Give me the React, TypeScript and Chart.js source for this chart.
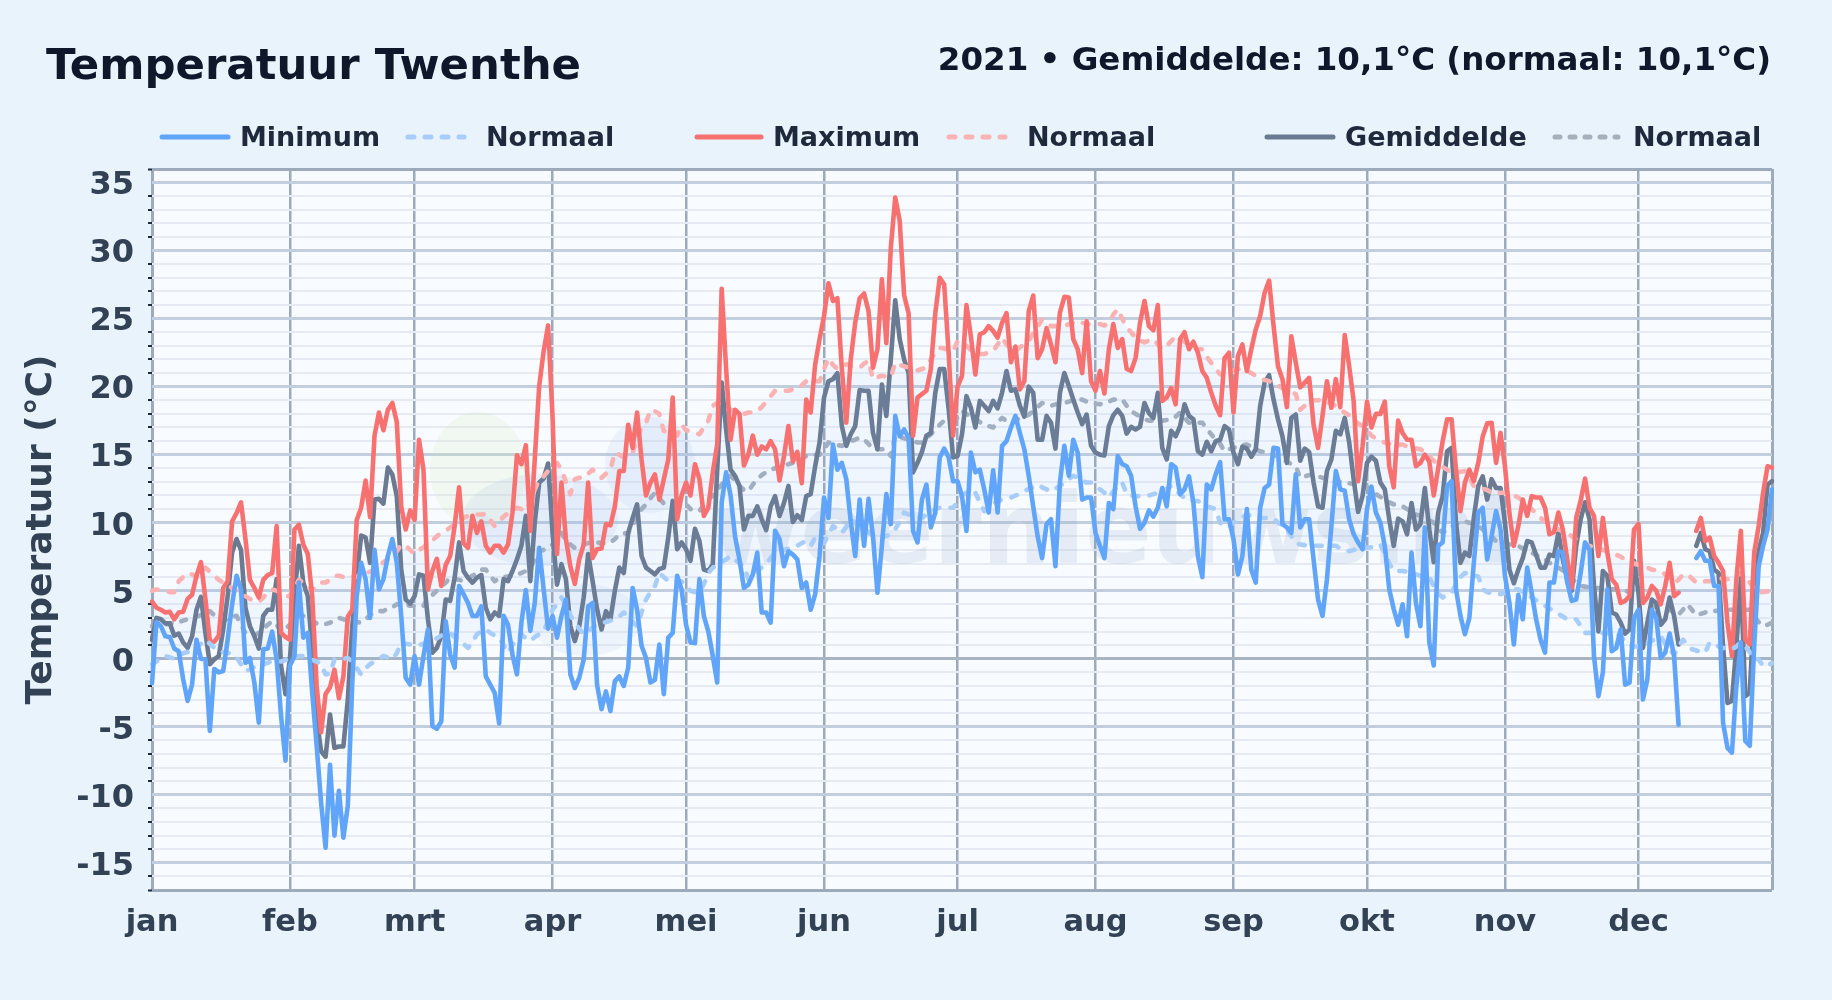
import React, { useEffect, useRef } from "react";
import { Chart, registerables } from "chart.js";

Chart.register(...registerables);

const monthNames = ["jan", "feb", "mrt", "apr", "mei", "jun", "jul", "aug", "sep", "okt", "nov", "dec"];
const monthLengths = [31, 28, 31, 30, 31, 30, 31, 31, 30, 31, 30, 31];

const minimum = [
  -1.8,2.7,2.4,1.65,1.6,0.75,0.55,-1.5,-3.1,-1.9,1.4,0,-0.05,-5.3,-0.75,-1,-0.9,1.4,4,6.1,5.1,-0.3,0.05,-1.75,-4.7,0.7,0.75,2,-0.05,-4.2,-7.5,
  -0.5,0.2,5.6,1.55,1.9,-2.5,-6.4,-10.6,-13.9,-7.8,-13,-9.7,-13.15,-10.8,-1.8,4.6,7.05,5.85,3,8,5.1,5.85,7.55,8.8,7.05,3.15,-1.4,-1.9,
  0.2,-1.9,0.2,2.15,-4.95,-5.15,-4.6,2.75,0.3,-0.65,5.35,4.75,4.1,3.15,3.15,3.85,-1.3,-1.9,-2.5,-4.75,3.15,2.5,0.3,-1.15,2.65,5.05,2.05,4.1,8.15,5.1,2.2,
  3.15,1.55,3.15,4.35,-1.15,-2.15,-1.4,-0.05,3.85,4.1,-1.9,-3.7,-2.4,-3.85,-1.65,-1.3,-2,-0.65,5.2,3.6,0.95,0.05,-1.75,-1.55,1.05,-2.6,1.55,1.9,6.1,5.1,
  2.5,1.2,1.15,5.85,3.15,2,0.2,-1.75,11.5,13.7,12,9,7.3,5.2,5.45,6.2,7.8,3.4,3.4,2.65,9.4,8.8,6.8,7.9,7.65,7.3,5.2,5.6,3.6,4.75,7.55,
  11.85,10.35,15.75,13.9,14.4,13.2,10.1,7.55,11.7,8.3,11.75,9,4.85,8.3,12.1,9.9,17.85,16.35,16.85,16.25,9.4,8.55,11.7,12.8,9.65,10.75,14.8,15.45,14.8,13.05,
  13.05,11.95,9.4,15.15,13.7,13.9,12.45,10.75,13.85,10.75,15.65,16,17,17.85,16.6,15.4,13.45,11.2,9,7.4,9.9,10.25,6.8,12.95,15.65,13.45,16.1,15.15,11.7,11.85,11.85,
  9.25,8.3,7.4,11.45,11,14.9,14.3,14.15,13.45,11.2,9.55,10,10.9,10.45,11.1,12.55,11.2,14.3,14.05,12.1,12.45,13.4,11.45,7.55,6,12.8,12.45,13.55,14.45,10.25,10.25,
  8.8,6.2,7.55,11,6.55,5.6,11.1,12.55,12.8,15.5,15.45,9.9,9.65,9.25,13.55,9.65,10.25,10.25,7.3,4.35,3.15,5.85,9.75,13.8,12.45,12.35,10.25,9.15,8.55,8.05,
  11,12.65,10.75,10,8.3,5.1,3.65,2.5,4,1.65,7.8,4.1,2.4,9.65,1.2,-0.5,8.3,8.55,12.7,13.05,5.1,3.15,1.8,3,7.05,10.75,11.1,7.3,9,10.85,9.5,
  6.1,4.1,1.05,4.7,2.9,6.7,4.85,2.9,1.4,0.45,5.6,5.6,7.9,7.8,5.6,4.25,4.35,6.3,8.55,8,0.2,-2.75,-1,5.1,0.55,0.8,2.15,-1.9,-1.75,3,
  3.6,-3,-1.5,3.6,3,0.05,0.45,1.85,0.2,-4.85,null,null,null,7.4,7.9,7.2,7.2,5.35,5.35,-4.7,-6.55,-6.9,-2,1.2,-6.05,-6.4,0.95,6.8,8.3,9.5,12.45,
];

const maximum = [
  4.2,3.75,3.6,3.4,3.45,2.9,3.4,3.45,4.4,4.7,6.1,7.1,4.4,1.3,1.25,1.7,5.2,5.7,10.1,10.7,11.5,8.8,5.8,5.2,4.5,5.8,6.15,6.3,9.75,1.9,1.6,
  1.4,9.5,9.85,8.4,7.7,4.6,-2,-5.4,-2.6,-2.1,-0.8,-2.9,-1.3,3.1,3.6,10.2,11.1,13.1,10.4,16.4,18.1,16.8,18.3,18.8,17.4,11.2,9.5,10.9,
  10.2,16.1,13.9,5.1,6.45,7.35,5.35,6.9,7.55,9.75,12.6,8.5,8.15,10.5,9.25,10.1,8.3,7.8,8.3,8.3,7.8,8.4,10.75,14.95,14.3,15.7,9.4,14.65,20.05,22.6,24.5,
  17.8,7.7,12.95,8.8,6.8,5.5,7.3,8.4,12.95,7.4,8.05,8.1,9.9,9.8,11.2,13.8,13.8,17.2,15.5,18.1,14.65,12,12.95,13.55,11.7,13.2,14.65,19.2,10.25,12,
  12.95,12,14.3,13.2,10.5,11.1,13.7,15.75,27.2,21.3,16.1,18.3,18,14.2,15,16.4,15,15.6,15.4,16,15.4,13.1,14.9,17.1,14.5,15.2,12.9,19.05,18.1,21.6,23.5,
  25.2,27.6,26.3,26.5,21.3,17.35,22,24.7,26.5,26.85,25.55,21.4,22.75,27.9,23.2,30.2,33.9,32.2,26.7,25.4,16.4,19.2,19.45,19.7,21.3,25.4,28,27.5,22.5,16.4,
  20,20.8,26,23.7,20.9,23.85,24,24.45,24.1,23.6,24.7,25.4,21.8,22.95,19.8,20.4,25.55,26.7,22.1,22.75,24.3,23.1,21.8,25.45,26.6,26.55,23.5,22.75,21,24.8,20.4,
  19.7,21.15,19.5,22.75,24.6,22.85,23.5,21.3,21.15,22.1,24.7,26.3,24.45,24.15,26,18.95,19.2,19.9,18.7,23.5,24,22.75,23.3,22.5,21.15,20.65,19.55,18.6,17.9,22.1,22.5,
  18.1,22.25,23.1,21.15,22.75,24.2,25.2,26.9,27.8,24.5,21.5,20.55,18.5,23.7,21.75,19.95,20.3,20.65,17.2,15.5,17.85,20.4,18.45,20.55,18.5,23.8,21.5,18.95,13.05,15.6,
  18.9,17,18,18,18.9,14.15,12.6,17.5,16.6,16.1,16.1,14.15,14.4,15,14.5,12,14,16,17.6,17.6,13.9,10.85,12.95,13.9,13.05,14.4,16.35,17.3,17.35,14.4,16.6,
  14.15,10.7,8.3,9.75,11.7,10.5,11.95,11.85,11.85,11.1,9.15,9.3,10.75,9.5,7.3,5.2,10.35,11.6,13.25,11.1,10.5,7.55,10.35,7.8,5.85,5.45,4.1,4.25,4.6,9.5,
  9.9,4.1,4.5,5.35,5,4,5.35,7.05,4.6,4.85,null,null,null,9.4,10.35,8.65,8.9,7.55,7.05,6.45,2.65,0.2,5.85,9.4,1.4,1.05,7.8,9.75,12.2,14.15,14.05,
];

const gemiddelde = [
  1.4,3,2.9,2.6,2.6,1.7,1.85,1.2,0.8,1.65,3.6,4.55,1.9,-0.4,-0.05,0.2,2.15,4.6,7.8,8.8,8,3.75,2.4,1.65,0.75,3.15,3.6,3.6,5.85,-0.55,-2.6,
  0.05,4.4,8.3,5.6,4.6,0.7,-4.45,-6.8,-7.2,-4.1,-6.55,-6.45,-6.45,-3,2.4,6.1,9.05,8.9,7.05,11.7,11.75,11.4,14.05,13.55,11.95,6.55,4.35,4.05,
  4.6,6.2,6.1,2.9,0.45,0.8,1.65,4.35,4.25,5.95,8.55,6.45,5.95,5.6,5.95,6.15,3.75,2.9,3.4,3.15,5.85,5.7,6.45,7.3,8.3,10.5,5.7,10,12.95,13.25,14.35,
  9.25,5.45,6.95,5.85,2.4,1.3,2.4,4.5,7.7,5.7,3.65,2.15,3.5,2.9,5,6.7,6.3,9.25,10.35,11.35,7.55,6.7,6.45,6.2,6.6,6.7,8.9,11.6,8.05,8.55,
  8.05,7.2,9.55,8.65,6.55,6.45,6.95,13.9,20.3,16.85,13.9,13.45,12.7,9.5,10.5,10.5,11.2,10.25,9.45,11.2,11.95,10.5,11.45,12.7,10.05,10.55,10.2,11.95,12.1,14.15,15.9,
  19.2,20.4,20.55,21,17.1,15.65,16.5,17.1,19.75,19.7,19.7,16.6,15.4,20.15,17.85,22,26.35,23.5,22,21,13.7,14.4,15.2,16.4,16.6,19.55,21.3,21.3,18.35,14.8,
  14.9,16.5,19.3,18.45,17,18.95,18.6,18.2,18.95,18.4,19.55,21.15,19.7,19.8,18.6,17.8,20,19.55,16.1,16.1,17.85,17.35,15.45,19.55,21,20.05,19.05,18.1,17.25,17.95,15.65,
  15.15,15,14.95,17.1,17.9,18.3,17.85,16.55,17.05,16.85,17.05,18.8,18.05,17.7,19.55,15.5,14.65,16.75,16.35,17.1,18.7,17.85,17.6,15.25,15,15.95,15.25,16,16.1,17.1,16.85,
  15.15,14.3,15.6,15.45,14.85,15.4,18.6,20.3,20.85,19.05,17.6,16.35,14.4,17.7,17.95,14.55,15.45,15.2,12.95,11.2,11.1,13.8,14.65,16.75,16.5,17.7,15.9,13.2,10.8,11.95,
  14.4,14.85,14.55,12.95,12.45,10.25,8.3,10.3,10.1,9.15,11.45,9.5,9.9,12.55,9.5,7.1,10.75,11.95,15.25,15.5,10,7.05,7.8,7.55,10.35,12.7,13.4,11.7,13.2,12.55,12.55,
  10,6.55,5.55,6.55,7.4,8.65,8.55,7.65,6.7,6.7,7.65,7.55,9.25,7.3,5.85,5,8.3,10.25,11.5,10.25,5.35,2,6.45,6.1,3.4,3.25,2.65,1.85,2.15,7.2,
  4.85,0.8,2.65,4.35,4.1,2.5,2.9,4.5,3.15,1.05,null,null,null,8.3,9.25,8.05,7.9,6.55,6.3,0.95,-3.25,-3.1,0.95,5.95,-2.75,-2.5,3.9,7.9,9.25,12.8,13.05,
];

const normaalMin = [
  -0.4,-0.2,0,0.2,0.1,0,0.2,0.4,0.5,0.45,0.8,1.1,1.4,1.1,0.8,0.55,0.5,0.45,0.3,0.1,-0.4,-0.9,-0.8,-0.6,-0.5,-0.4,-0.3,-0.15,-0.2,-0.2,-0.1,
  0,0.1,0.2,0.2,0,-0.1,-0.2,-0.4,-1.15,-1.1,-0.05,0,0,0.05,-0.2,-0.7,-1.15,-0.7,-0.4,-0.2,0,0.2,0.1,-0.05,0.4,1.2,1.1,1.05,
  1.05,1,1.1,1.2,1.3,1.5,1.7,1.8,1.9,1.6,1.4,1.1,0.8,1.2,1.8,2,2.15,1.9,1.7,1.55,1,0.45,1,1.5,1.8,1.5,1.3,1.6,1.8,2,2.8,
  3.6,4,4.5,3.9,3.2,2.65,2.2,1.8,2,2.3,2.5,2.6,2.7,2.8,2.9,3.1,3.4,3,2.7,2.4,3.4,4.35,4.9,5.35,6.3,6,5.7,5.7,5.7,5.7,
  5.3,5,4.9,4.85,5.5,6.3,6.7,6.9,7.1,7.3,7.55,7.3,7,6.8,5.85,6.2,6.5,6.7,6.95,7.4,7.8,7.9,8,8.1,8.2,8.3,8.5,8.65,8.3,8.9,8.7,
  8.5,9.1,9.75,9.5,9.25,9.7,10.25,10,9.8,9.6,9.3,9,9,9,9,9.2,9.5,10.1,10.75,10.6,10.5,10.4,10.35,10.6,10.8,11,11.1,11.1,11.1,11.1,
  11.5,12,12.2,12.4,12.2,11.5,10.85,11.1,11.4,11.6,11.7,11.8,11.85,12,12.1,12.3,12.5,12.6,12.8,12.6,12.45,12.3,12.5,12.7,12.95,13.2,13.45,13.3,13.1,12.95,12.95,
  12.7,12.45,12.2,11.85,12.3,12.7,12.95,12.1,12,11.95,11.95,11.95,12,12.1,12.2,12.3,12.5,12.7,12.4,12.1,11.8,11.6,11.6,11.6,11.4,11.2,11.1,11,10,9.8,9.65,
  10,10.2,10.4,10.6,10.5,10.4,10.35,10.35,10.35,10.35,10,9.8,9.5,9,8.5,8.4,8.35,8.3,8.3,8.3,8.3,8.3,8.3,8.3,8.1,8,7.9,8,8.1,8.15,
  8.15,8.2,8.3,8.4,7.7,7,6.45,6.45,6.45,6.4,6.3,6.2,6.1,6.1,6.05,5.3,4.8,4.5,4.7,4.85,5.5,6,6.3,6.2,6.1,6.05,5.1,4.9,4.8,4.75,4.75,
  4.85,5,5.1,5.1,4.9,4.7,4.5,4.3,4.1,3.9,3.7,3.5,3.3,3.1,2.9,2.9,2.9,2.4,1.9,1.9,1.9,1.9,1.9,1.9,1.9,1.9,1.6,1.3,1,0.9,
  0.9,1,1.1,1.3,1.5,1.65,1.1,0.7,0.3,0.9,1.4,1,0.7,0.6,0.5,0.45,1.2,1.1,0.9,0.8,0.7,0.7,0.9,1.2,0.9,0.5,-0.05,-0.05,-0.55,-0.55,-0.3,
];

const normaalMax = [
  5,5.1,5,5,4.9,4.9,5.7,6,6.3,6.2,6,6.4,6.7,6.4,6.1,5.8,5.6,5.4,5.2,5,4.8,4.6,4.4,4.2,4.2,4.5,4.9,5.1,5,4.8,4.6,
  4.6,5.2,5.8,5.6,5.3,5,5.4,5.6,5.6,5.8,6.1,6.1,6,6.1,6.1,6,6.3,6.3,6.4,6.6,6.8,7.1,7.3,7.6,7.9,8.4,8.3,8,
  7.7,8,8.2,8.5,8.7,9,9.25,9.4,9.65,9.9,10.1,10.35,10.5,10.6,10.6,10.6,10.65,10.2,9.75,10.1,10.45,10.7,10.9,11.1,11,10.85,11.5,12.4,13.2,13.4,13.8,
  14.1,14.4,13.9,13,12.1,13.2,13.3,13.3,13.6,13.9,13.6,13.3,13.6,13.9,15.15,15,14.8,15,15.15,16.2,17,17.35,18.3,18.2,18,16.75,16.6,16.5,16.4,17.2,
  16.8,16.7,16.6,16.5,17,17.5,18.6,18.8,18.6,18.4,18.3,18.2,18.1,18,18.1,18.1,18.2,18.5,18.9,19.3,19.7,19.7,19.7,19.7,19.8,19.85,20.1,20.4,20.4,20.4,20.4,
  21.3,22.1,21.6,21.3,21.5,21.65,21.5,21.45,21.4,21.7,21.9,20.55,20.7,20.8,20.75,20.7,21.75,21.6,21.5,21.4,21.3,21.2,21.3,21.4,22,22.5,22.85,22.8,22.7,22.6,
  23.35,23.3,23,22.7,22.5,22.4,22.4,22.5,22.6,23.1,23.6,23.1,22.8,22.6,22.9,23.1,23.35,23.9,24.4,24.95,24.7,24.45,24.45,24.5,24.45,24.6,24.7,24.85,24.7,24.6,24.6,
  24.6,24.6,24.5,24.7,25.3,25.7,25,24.35,24,23.6,23.4,23.25,23.4,23.5,23.1,22.75,23,23.35,23.7,23.5,23.3,23.1,22.9,22.75,22.75,22.2,21.75,21.3,20.9,20.9,21.1,
  21.2,21.3,21.2,21.15,21,20.8,20.55,20.5,20.4,20.3,20.1,19.9,19.8,19.6,19.45,18.3,18.6,18.95,19,19,19.05,18.9,18.7,18.6,18.3,18.1,17.9,17.6,17.3,17.1,
  16.8,16.4,16.2,16,15.9,15.8,15.65,15.7,15.75,15.6,15.5,15.45,15.4,15.2,14.9,14.55,14.3,14.1,13.9,13.7,13.7,13.75,13.8,13.3,12.7,12.6,12.5,12.4,12.2,12.1,12.2,
  12.2,12.2,12,11.85,11.6,11.3,11,10.7,10.35,10.1,9.9,9.7,9.5,9.4,9.25,9,8.8,8.6,8.4,8.3,8.2,8.1,8,7.9,7.8,7.65,7.5,7.3,7.2,7,
  6.9,6.8,6.7,6.55,6.5,6.45,6.2,5.9,5.6,5.8,6.2,6.2,5.9,5.6,5.6,5.7,5.7,5.8,5.9,5.9,5.85,5.85,6.1,6.3,6,5.6,5.2,4.85,4.9,4.95,4.95,
];

const normaalGem = [
  2.4,2.4,2.5,2.5,2.6,2.6,2.7,2.8,2.9,3,3.1,3.2,3.3,3.5,3.2,2.9,2.8,2.9,3.1,3.15,2.5,1.9,1.8,1.7,1.9,2.2,2.5,2.75,2.5,2,2.2,
  2.5,2.8,3.15,3.15,3,2.8,2.6,2.5,2.55,2.65,2.8,3,2.9,2.8,2.7,2.7,2.65,2.9,3.2,3.4,3.5,3.5,3.7,3.8,4,4,3.95,3.9,
  3.9,3.9,3.9,4.5,4.7,5,5.3,5.6,5.95,5.85,5.8,5.7,5.9,6.1,6.3,6.55,6.55,6.1,5.7,5.9,6,6.05,6.1,6.2,6.3,6.45,6.7,7.3,7.9,8,8.2,
  8.4,8.8,9.25,8.7,8.4,8.15,8.3,8.4,8.5,8.55,8.55,8.5,8.5,8.55,8.8,9.15,9.2,9.25,9.8,10.5,11,11.35,11.8,12.2,11.8,11.4,11.35,11.3,11.35,11.35,
  11.35,11,10.9,10.85,11.3,11.7,12,12.4,12.8,13.2,13.45,13.1,12.7,12.4,12.3,12.8,13.2,13.5,13.7,13.9,14,14.1,14.2,14.3,14.4,14.5,14.7,14.9,14.9,15,15,
  15.4,15.9,15.8,15.7,15.65,15.8,16,16.1,16.25,16.1,15.8,15.4,15.4,15.4,15.4,14.9,16.4,16.3,16.2,16.1,16,15.9,15.9,16.2,16.5,16.85,17.2,17.5,17.55,17.6,
  17.7,18.2,18,17.8,17.6,17.4,17.2,17.1,17,17.4,17.7,17.5,17.35,17.5,17.7,17.8,17.95,18.2,18.5,18.8,18.7,18.6,18.7,18.75,18.8,18.9,19,19.05,19.05,18.9,18.8,
  18.75,18.7,18.8,18.9,19.05,19.05,19.05,18.6,18.2,18,17.8,17.6,17.5,17.5,17.5,17.5,17.55,17.6,17.8,18.1,17.7,17.35,17.35,17.35,17.35,16.9,16.5,16.1,15.8,15.25,15.4,
  15.5,15.6,15.7,15.75,15.6,15.4,15.25,15.2,15.1,15,14.85,14.65,14.5,14.3,14.15,13.3,13.4,13.5,13.55,13.4,13.3,13.2,13.1,13,13,12.95,12.9,12.85,12.75,12.7,
  12.6,12.4,12.1,11.9,11.7,11.5,11.35,11.3,11.2,11,10.8,10.6,10.5,10.3,10.15,10,9.6,9.25,9.5,9.7,9.9,10,10.1,10,9.9,9.75,9.5,9.2,9,8.65,8.6,
  8.5,8.4,8.35,8.3,8.1,7.9,7.8,7.6,7.5,7.3,7.05,6.9,6.7,6.5,6.2,5.9,5.6,5.35,5.3,5.25,5.2,5.2,5.15,5.15,5.1,5.1,5.1,5,4.9,4.7,
  4.5,4.3,4.1,3.85,3.8,3.8,3.75,3.6,3.4,3.25,3.6,4,3.6,3.2,3.3,3.4,3.5,3.5,3.55,3.6,3.6,3.6,3.6,3.6,3.6,3.6,3.1,2.7,2.4,2.5,2.65,
];

const seriesLabels = ["Minimum", "Normaal", "Maximum", "Normaal", "Gemiddelde", "Normaal"];
const titleText = "Temperatuur Twenthe";
const subtitleText = "2021 • Gemiddelde: 10,1°C (normaal: 10,1°C)";
const watermarkText = "weernieuws.nl";
const yTitle = "Temperatuur (°C)";

const FONT = '"DejaVu Sans", sans-serif';

const monthStarts: Record<number, string> = {};
{
  let d = 0;
  monthNames.forEach((m, i) => {
    monthStarts[d] = m;
    d += monthLengths[i];
  });
}
const dayLabels: string[] = [];
monthNames.forEach((m, i) => {
  for (let k = 1; k <= monthLengths[i]; k++) dayLabels.push(`${k} ${m}`);
});

const LAST = dayLabels.length - 1;
const Y_MIN = -17;
const Y_MAX = 36;

const legendSlots = [
  { x0: 162, x1: 228, tx: 240 },
  { x0: 408, x1: 464, tx: 486 },
  { x0: 697, x1: 761, tx: 773 },
  { x0: 949, x1: 1005, tx: 1027 },
  { x0: 1267, x1: 1333, tx: 1345 },
  { x0: 1555, x1: 1618, tx: 1633 },
];

const backdrop = {
  id: "backdrop",
  beforeDraw(chart: any) {
    const { ctx, chartArea: a } = chart;
    ctx.save();
    ctx.fillStyle = "#f8fbff";
    ctx.fillRect(a.left, a.top, a.right - a.left, a.bottom - a.top);
    ctx.restore();
  },
  beforeDatasetsDraw(chart: any) {
    const { ctx } = chart;
    ctx.save();
    const blob = (x: number, y: number, rx: number, ry: number, c: string) => {
      ctx.fillStyle = c;
      ctx.beginPath();
      ctx.ellipse(x, y, rx, ry, 0, 0, Math.PI * 2);
      ctx.fill();
    };
    blob(478, 470, 48, 58, "rgba(205,232,170,0.16)");
    blob(540, 520, 78, 46, "rgba(150,185,225,0.14)");
    blob(585, 620, 55, 36, "rgba(150,185,225,0.10)");
    blob(650, 465, 45, 48, "rgba(150,185,225,0.12)");
    ctx.font = `bold 98px ${FONT}`;
    ctx.fillStyle = "rgba(120,150,185,0.14)";
    ctx.textAlign = "left";
    ctx.textBaseline = "alphabetic";
    ctx.fillText(watermarkText, 710, 563);
    ctx.restore();
  },
  afterDraw(chart: any) {
    const { ctx } = chart;
    ctx.save();
    ctx.textBaseline = "alphabetic";
    ctx.fillStyle = "#0f172a";
    ctx.textAlign = "left";
    ctx.font = `bold 43.4px ${FONT}`;
    ctx.fillText(titleText, 46, 79);
    ctx.textAlign = "right";
    ctx.font = `bold 32.5px ${FONT}`;
    ctx.fillText(subtitleText, 1771, 70);

    ctx.textAlign = "left";
    ctx.font = `bold 27px ${FONT}`;
    chart.data.datasets.forEach((ds: any, i: number) => {
      const slot = legendSlots[i];
      ctx.save();
      ctx.strokeStyle = ds.borderColor;
      ctx.lineWidth = 5;
      ctx.lineCap = "round";
      if (ds.borderDash) ctx.setLineDash(ds.borderDash);
      ctx.beginPath();
      ctx.moveTo(slot.x0, 137);
      ctx.lineTo(slot.x1, 137);
      ctx.stroke();
      ctx.restore();
      ctx.fillStyle = "#1e293b";
      ctx.fillText(ds.label, slot.tx, 146);
    });
    ctx.restore();
  },
};

function line(label: string, data: any[], color: string, extra: any = {}) {
  return {
    label,
    data,
    borderColor: color,
    backgroundColor: color,
    borderWidth: 4.6,
    pointRadius: 0,
    tension: 0,
    borderJoinStyle: "round",
    borderCapStyle: "round",
    spanGaps: false,
    fill: false,
    ...extra,
  };
}

export default function App() {
  const ref = useRef<HTMLCanvasElement | null>(null);

  useEffect(() => {
    if (!ref.current) return;
    const chart = new Chart(ref.current, {
      type: "line",
      data: {
        labels: dayLabels,
        datasets: [
          line(seriesLabels[0], minimum, "#60a5fa"),
          line(seriesLabels[1], normaalMin, "#a9cdf9", { borderDash: [6, 11] }),
          line(seriesLabels[2], maximum, "#f87171"),
          line(seriesLabels[3], normaalMax, "#fbb2b2", {
            borderDash: [6, 11],
            fill: { target: 1, above: "rgba(96,165,250,0.06)", below: "rgba(96,165,250,0.06)" },
          }),
          line(seriesLabels[4], gemiddelde, "#6b7a90"),
          line(seriesLabels[5], normaalGem, "#a6b0bd", { borderDash: [5, 10] }),
        ],
      },
      plugins: [backdrop],
      options: {
        responsive: false,
        animation: false,
        devicePixelRatio: 1,
        layout: { padding: { top: 169, right: 60, left: 0, bottom: 0 } },
        plugins: {
          legend: { display: false },
          title: { display: false },
          tooltip: { enabled: false },
        },
        scales: {
          x: {
            type: "category",
            offset: false,
            afterFit(s: any) {
              s.height = 110;
            },
            border: { display: false },
            grid: {
              drawTicks: false,
              color: (c: any) => (c.index in monthStarts || c.index === LAST ? "#9daabb" : "transparent"),
              lineWidth: (c: any) =>
                c.index === 0 || c.index === LAST ? 3 : c.index in monthStarts ? 2.5 : 0,
            },
            ticks: {
              autoSkip: false,
              maxRotation: 0,
              minRotation: 0,
              padding: 15,
              color: "#334155",
              font: { family: FONT, size: 30.5, weight: "bold" },
              callback: (_v: any, i: number) => monthStarts[i] ?? "",
            },
          },
          y: {
            type: "linear",
            min: Y_MIN,
            max: Y_MAX,
            afterFit(s: any) {
              s.width = 152;
            },
            border: { display: false },
            title: {
              display: true,
              text: yTitle,
              color: "#334155",
              font: { family: FONT, size: 36, weight: "bold" },
              padding: { top: 20, bottom: 0 },
            },
            grid: {
              tickLength: 4,
              tickWidth: 2,
              tickColor: (c: any) => (c.tick.value % 5 === 0 ? "transparent" : "#1e293b"),
              color: (c: any) => {
                const v = c.tick.value;
                if (v === Y_MIN || v === Y_MAX) return "#9daabb";
                if (v === 0) return "#a9b4c3";
                return v % 5 === 0 ? "#c2cede" : "#e6ebf3";
              },
              lineWidth: (c: any) => {
                const v = c.tick.value;
                if (v === Y_MIN || v === Y_MAX || v % 5 === 0) return 3;
                return 2;
              },
            },
            ticks: {
              stepSize: 1,
              autoSkip: false,
              padding: 14,
              labelOffset: 3.5,
              color: "#334155",
              font: { family: FONT, size: 32, weight: "bold" },
              callback: (v: any) => (Number(v) % 5 === 0 ? String(v) : ""),
            },
          },
        },
      },
    } as any);
    return () => chart.destroy();
  }, []);

  return (
    <div style={{ position: "fixed", left: 0, top: 0, width: 1832, height: 1000, background: "#e8f3fc" }}>
      <canvas ref={ref} width={1832} height={1000} style={{ display: "block", width: 1832, height: 1000 }} />
    </div>
  );
}
